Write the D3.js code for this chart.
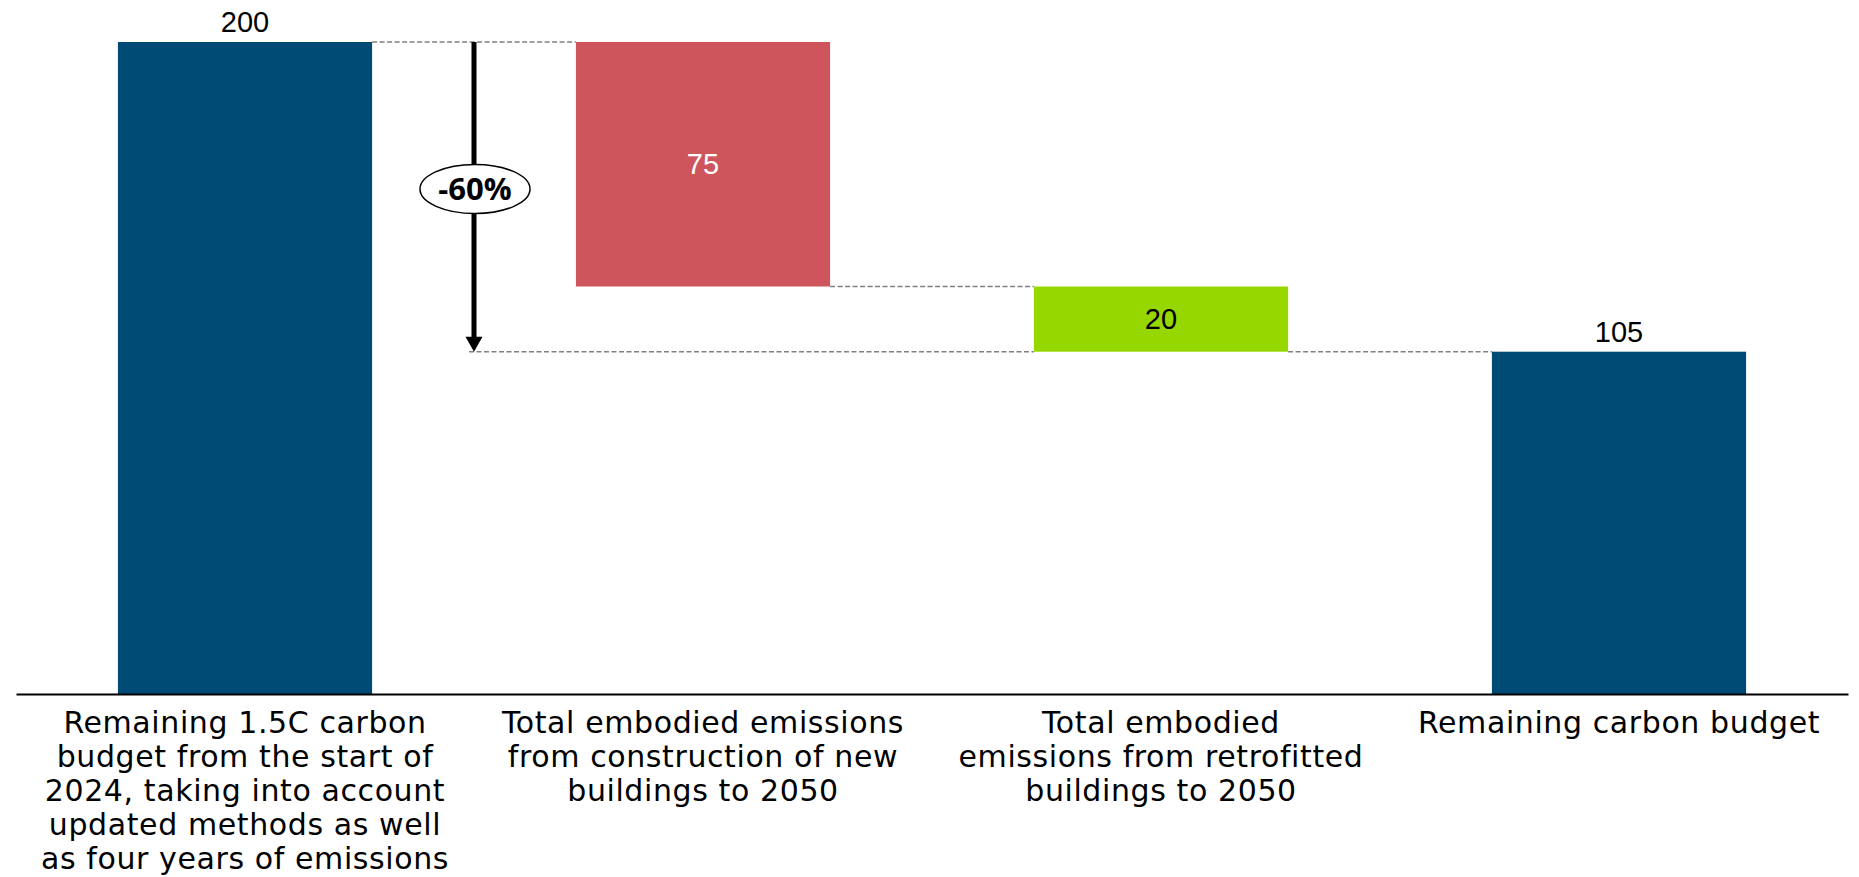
<!DOCTYPE html>
<html>
<head>
<meta charset="utf-8">
<script src="https://cdn.jsdelivr.net/npm/d3@7"></script>
<style>
  html, body { margin: 0; padding: 0; background: #ffffff; }
  svg { display: block; }
</style>
</head>
<body>
<svg id="chart" width="1859" height="877"></svg>
<script>
// Carbon budget waterfall: starting budget, two embodied-emission deductions, remainder.
const categories = ["start", "newBuild", "retrofit", "remaining"];
const categoryLabels = [
  ["Remaining 1.5C carbon", "budget from the start of", "2024, taking into account", "updated methods as well", "as four years of emissions"],
  ["Total embodied emissions", "from construction of new", "buildings to 2050"],
  ["Total embodied", "emissions from retrofitted", "buildings to 2050"],
  ["Remaining carbon budget"]
];
const stepValues = [200, 75, 20, 105];
const stepKinds = ["total", "decrease", "decrease", "total"];
const changeLabel = "-60%";
const yMax = 200;

const colors = { total: "#004a76", decrease0: "#cd555b", decrease1: "#97d700" };

const svg = d3.select("#chart");
const baseY = 694, topY = 42;

const x = d3.scaleBand()
  .domain(categories)
  .range([16, 1848])
  .paddingInner(0.445)
  .paddingOuter(0.2225);

const y = d3.scaleLinear().domain([0, yMax]).range([baseY, topY]);

// Compute running start/end for each waterfall step.
let running = 0;
const bars = categories.map((c, i) => {
  let lo, hi;
  if (stepKinds[i] === "total") {
    lo = 0; hi = stepValues[i]; running = stepValues[i];
  } else {
    hi = running; lo = running - stepValues[i]; running = lo;
  }
  return { cat: c, i, lo, hi, value: stepValues[i], kind: stepKinds[i] };
});

let decIdx = 0;
bars.forEach(b => {
  b.fill = b.kind === "total" ? colors.total : colors["decrease" + (decIdx++)];
});

// Dashed connectors between consecutive bars
const conn = svg.append("g")
  .attr("stroke", "#808080")
  .attr("stroke-width", 1.5)
  .attr("stroke-dasharray", "5,2.5");

for (let i = 0; i < bars.length - 1; i++) {
  const a = bars[i], b = bars[i + 1];
  const level = a.kind === "total" ? a.hi : a.lo;
  conn.append("line")
    .attr("x1", x(a.cat) + x.bandwidth())
    .attr("x2", x(b.cat))
    .attr("y1", y(level)).attr("y2", y(level));
}

// Bars
svg.append("g").selectAll("rect")
  .data(bars)
  .join("rect")
  .attr("x", d => x(d.cat))
  .attr("width", x.bandwidth())
  .attr("y", d => y(d.hi))
  .attr("height", d => y(d.lo) - y(d.hi))
  .attr("fill", d => d.fill);

// Value labels
const numFont = "'Liberation Sans', Arial, sans-serif";
svg.append("g").selectAll("text")
  .data(bars)
  .join("text")
  .attr("x", d => x(d.cat) + x.bandwidth() / 2)
  .attr("y", d => d.kind === "total" ? y(d.hi) - 10 : (y(d.hi) + y(d.lo)) / 2)
  .attr("dy", d => d.kind === "total" ? 0 : "0.35em")
  .attr("text-anchor", "middle")
  .attr("font-family", numFont)
  .attr("font-size", 29)
  .attr("fill", d => d.i === 1 ? "#ffffff" : "#000000")
  .text(d => d.value);

// Change arrow from starting budget down to the remaining budget level
const first = bars[0], last = bars[bars.length - 1];
const arrowX = (x(bars[0].cat) + x.bandwidth() + x(bars[1].cat)) / 2;
const arrowTop = y(first.hi), arrowTip = y(last.hi);
const headLen = 15, headHalf = 8.5;

// dashed guide from the arrow tip across to the retrofit step
conn.append("line")
  .attr("x1", arrowX - 5)
  .attr("x2", x(bars[2].cat))
  .attr("y1", arrowTip).attr("y2", arrowTip);

svg.append("line")
  .attr("x1", arrowX).attr("x2", arrowX)
  .attr("y1", arrowTop).attr("y2", arrowTip - headLen + 1)
  .attr("stroke", "#000").attr("stroke-width", 5);

svg.append("path")
  .attr("d", `M${arrowX - headHalf},${arrowTip - headLen} L${arrowX + headHalf},${arrowTip - headLen} L${arrowX},${arrowTip} Z`)
  .attr("fill", "#000");

const ellY = 189;
svg.append("ellipse")
  .attr("cx", arrowX + 1).attr("cy", ellY)
  .attr("rx", 55).attr("ry", 24.5)
  .attr("fill", "#fff").attr("stroke", "#000").attr("stroke-width", 1.5);

svg.append("text")
  .attr("x", arrowX + 1).attr("y", ellY)
  .attr("dy", "0.36em")
  .attr("text-anchor", "middle")
  .attr("font-family", "'Open Sans', sans-serif")
  .attr("font-weight", 700)
  .attr("font-size", 31)
  .attr("fill", "#000")
  .text(changeLabel);

// Category axis along the baseline
const axis = svg.append("g")
  .attr("transform", `translate(0,${baseY})`)
  .call(d3.axisBottom(x).tickSize(0).tickSizeOuter(0).tickFormat(""));

axis.select(".domain").attr("stroke", "#000").attr("stroke-width", 2.2);

axis.selectAll(".tick text").remove();
axis.selectAll(".tick")
  .append("text")
  .attr("fill", "#000")
  .attr("text-anchor", "middle")
  .attr("font-family", "'DejaVu Sans', sans-serif")
  .attr("font-size", 30)
  .attr("letter-spacing", 0.6)
  .attr("y", 39)
  .each(function (d) {
    const lines = categoryLabels[categories.indexOf(d)];
    const t = d3.select(this);
    lines.forEach((ln, k) => {
      t.append("tspan").attr("x", 0).attr("dy", k === 0 ? 0 : 34).text(ln);
    });
  });
</script>
</body>
</html>
